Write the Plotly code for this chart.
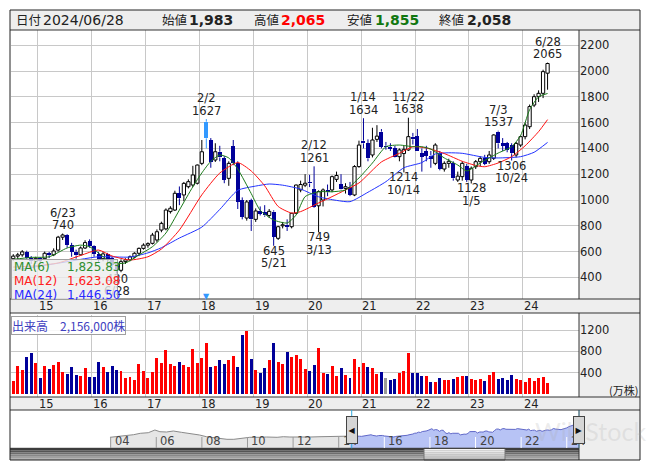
import plotly.graph_objects as go
import pandas as pd

W, H = 653, 470
def px_x(p): return p / W
def px_y(p): return 1 - p / H

# ---------------- data ----------------
months = pd.date_range("2014-07-01", periods=120, freq="MS")
month_labels = months.strftime("%Y-%m").tolist()
idx = list(range(len(month_labels)))
year_short = ["15", "16", "17", "18", "19", "20", "21", "22", "23", "24"]

opens = [
545,565,575,598,548,525,548,545,587,575,
612,712,729,650,600,575,628,680,645,580,
545,582,548,505,455,522,536,558,587,625,
650,664,690,767,776,910,922,1052,1039,1103,
1116,1130,1284,1607,1465,1310,1374,1323,1168,1419,
1284,1000,860,1000,850,915,905,880,910,703,
800,808,793,897,1078,1115,1140,1083,955,1000,
1078,1078,1160,1124,1090,1103,1039,1259,1460,1439,
1349,1470,1530,1420,1413,1401,1336,1360,1388,1491,
1496,1362,1380,1345,1284,1364,1240,1284,1284,1155,
1181,1264,1155,1258,1297,1323,1297,1323,1530,1439,
1439,1426,1349,1426,1491,1568,1736,1801,1827,1983]
highs = [
580,590,612,607,565,560,558,600,598,625,
722,740,735,668,615,640,688,695,650,598,
598,590,560,515,540,548,570,595,632,664,
672,745,772,832,935,952,1072,1105,1140,1160,
1265,1275,1465,1627,1480,1440,1420,1340,1300,1465,
1300,1020,1000,1010,935,950,960,930,920,800,
830,850,900,1120,1150,1200,1195,1261,1075,1090,
1120,1190,1220,1200,1130,1140,1270,1460,1634,1470,
1560,1580,1550,1450,1440,1420,1400,1420,1638,1520,
1550,1400,1420,1380,1440,1380,1300,1320,1300,1220,
1300,1280,1260,1310,1340,1350,1380,1510,1537,1480,
1450,1440,1450,1500,1600,1740,1820,1850,2010,2065]
lows = [
530,540,560,535,505,505,505,535,550,565,
600,690,630,560,545,570,620,630,560,520,
525,505,480,430,440,505,525,548,565,615,
630,655,672,750,765,895,915,960,990,1090,
1100,1120,1270,1400,1250,1295,1300,1130,1110,1270,
930,850,840,760,830,880,870,860,645,690,
780,760,780,890,1060,1100,1100,940,749,950,
1030,1060,1140,1080,1050,1030,1030,1250,1400,1300,
1330,1450,1400,1390,1380,1330,1300,1214,1380,1430,
1380,1220,1300,1250,1270,1230,1220,1250,1150,1140,
1150,1140,1128,1240,1260,1270,1280,1310,1400,1380,
1370,1306,1330,1410,1470,1550,1720,1760,1790,1855]
closes = [
565,575,598,548,525,548,530,587,572,605,
712,729,650,600,570,628,670,645,580,545,
582,540,500,455,522,536,560,587,625,650,
662,728,754,819,922,936,1052,1013,1129,1142,
1194,1271,1374,1478,1297,1374,1330,1155,1284,1287,
987,870,985,850,915,895,880,912,716,793,
808,790,897,1116,1120,1130,1128,949,1065,1078,
1060,1181,1190,1083,1103,1039,1259,1426,1439,1323,
1465,1495,1413,1413,1395,1336,1388,1393,1491,1470,
1382,1336,1345,1320,1426,1240,1284,1300,1168,1185,
1284,1155,1246,1297,1323,1279,1349,1504,1439,1420,
1388,1362,1439,1491,1581,1724,1801,1827,1995,2058]
# volume in 10,000 shares (万株)
volume = [
244,525,451,694,775,588,301,525,470,544,
600,419,381,507,357,338,488,319,319,600,
507,413,525,451,432,301,319,263,563,432,
301,413,675,581,825,563,525,600,544,507,
844,581,675,956,507,525,638,563,638,713,
507,1106,1181,656,451,394,488,638,956,600,
563,788,694,731,656,470,432,544,863,400,
376,526,338,488,357,301,657,507,582,507,
488,376,413,301,263,282,394,432,770,394,
394,338,338,226,226,301,263,263,282,319,
338,338,282,263,282,244,357,413,282,301,
263,357,282,263,226,301,244,301,319,215.6]

# moving averages (month index -> value)
ma6_m = [0,4,8,12,15,17,19,22,25,28,31,34,37,40,42,44,46,48,50,53,55,58,61,63,65,68,71,74,77,80,83,86,89,91,93,96,99,101,104,106,108,111,113,115,117,119]
ma6_v = [540,555,560,628,650,638,589,512,512,574,638,744,922,1103,1210,1300,1349,1326,1240,1050,920,845,822,884,1026,1064,1064,1078,1171,1287,1413,1426,1413,1413,1395,1326,1271,1225,1287,1326,1364,1413,1500,1700,1800,1825.83]
ma12_m = [0,5,10,15,19,22,26,30,33,37,42,46,50,53,56,59,62,64,68,71,74,77,82,86,89,92,96,100,103,105,108,111,114,117,119]
ma12_v = [480,490,512,570,612,566,535,560,620,767,1040,1209,1290,1225,1110,950,899,910,977,1026,1078,1132,1295,1362,1413,1403,1360,1300,1268,1258,1287,1336,1420,1530,1623.08]
ma24_m = [0,10,19,26,30,33,37,42,46,50,54,57,60,64,68,72,75,79,83,87,91,94,97,100,105,108,113,116,119]
ma24_v = [455,510,560,558,590,630,705,790,927,1075,1108,1124,1115,1085,1025,997,987,1060,1142,1250,1290,1357,1366,1362,1330,1326,1336,1370,1446.5]
ma_names = ["MA(6)", "MA(12)", "MA(24)"]
ma_last = [1825.83, 1623.08, 1446.50]

hi_labels = [(11, "6/23"), (43, "2/2"), (67, "2/12"), (78, "1/14"), (88, "11/22"), (108, "7/3"), (119, "6/28")]
lo_labels = [(23, "6/28"), (58, "5/21"), (68, "3/13"), (87, "10/14"), (102, "1/5"), (111, "10/24")]
highlight_i = 43
last_date = "2024/06/28"

# long-range navigator history before the displayed window (decimal year, price)
nav_years = [2003.97,2004.2,2004.7,2005.0,2005.3,2005.65,2005.94,2006.16,2006.45,2006.75,2007.1,2007.48,2007.9,2008.2,2008.65,2009.1,2009.4,2009.67,2010.1,2010.55,2010.84,2011.3,2011.57,2011.86,2012.3,2012.74,2013.18,2013.6,2014.0,2014.5]
nav_vals = [413,487,574,735,909,983,1318,1107,1070,1194,1033,909,698,487,289,165,165,289,413,413,450,413,487,450,413,450,487,487,520,560]
nav_tick_years = list(range(2004, 2025, 2))

price_ticks = [400, 600, 800, 1000, 1200, 1400, 1600, 1800, 2000, 2200]
vol_ticks = [400, 800, 1200]

# ---------------- styling ----------------
FONT = "DejaVu Sans, Noto Sans CJK JP, sans-serif"
JFONT = "Noto Sans CJK JP, DejaVu Sans, sans-serif"
UP_LINE = "#000000"
DOWN = "#000099"
HILITE = "#3399ff"
GRID = "#c8c8c8"
PANEL = "#eeeeee"
TXT = "#222222"

jan_idx = [month_labels.index("20%s-01" % y) for y in year_short]

fig = go.Figure()

up_ids = [i for i in idx if closes[i] >= opens[i] and i != highlight_i]
dn_ids = [i for i in idx if closes[i] < opens[i] and i != highlight_i]

def wick_xy(ids):
    xs, ys = [], []
    for i in ids:
        lo_b, hi_b = min(opens[i], closes[i]), max(opens[i], closes[i])
        xs += [i, i, None, i, i, None]
        ys += [lows[i], lo_b, None, hi_b, highs[i], None]
    return xs, ys

# candle bodies
fig.add_trace(go.Bar(x=up_ids, y=[closes[i] - opens[i] for i in up_ids], base=[opens[i] for i in up_ids],
                     width=0.72, marker=dict(color="white", line=dict(color=UP_LINE, width=1)),
                     xaxis="x", yaxis="y", hoverinfo="skip"))
fig.add_trace(go.Bar(x=dn_ids, y=[opens[i] - closes[i] for i in dn_ids], base=[closes[i] for i in dn_ids],
                     width=0.9, marker=dict(color=DOWN, line=dict(width=0)),
                     xaxis="x", yaxis="y", hoverinfo="skip"))
h = highlight_i
fig.add_trace(go.Bar(x=[h], y=[abs(opens[h] - closes[h])], base=[min(opens[h], closes[h])],
                     width=0.9, marker=dict(color=HILITE, line=dict(width=0)),
                     xaxis="x", yaxis="y", hoverinfo="skip"))
# wicks
for ids, col in ((up_ids, UP_LINE), (dn_ids, DOWN), ([h], HILITE)):
    wx, wy = wick_xy(ids)
    fig.add_trace(go.Scatter(x=wx, y=wy, mode="lines", line=dict(color=col, width=1),
                             xaxis="x", yaxis="y", hoverinfo="skip"))
# moving averages
for m, v, col in ((ma24_m, ma24_v, "#2233ff"), (ma12_m, ma12_v, "#ff1111"), (ma6_m, ma6_v, "#1a7a1a")):
    fig.add_trace(go.Scatter(x=m, y=v, mode="lines", line=dict(color=col, width=1, shape="spline", smoothing=0.6),
                             xaxis="x", yaxis="y", hoverinfo="skip"))

# volume
vcols = []
for i in idx:
    prev = closes[i - 1] if i > 0 else opens[i]
    vcols.append("#ff0000" if closes[i] > prev else ("#000099" if closes[i] < prev else "#999999"))
fig.add_trace(go.Bar(x=idx, y=volume, width=0.66, marker=dict(color=vcols, line=dict(width=0)),
                     xaxis="x2", yaxis="y2", hoverinfo="skip"))

# navigator
nav_floor = -950
sel_years = [d.year + (d.month - 1) / 12 for d in months]
fig.add_trace(go.Scatter(x=[nav_years[0], nav_years[-1]], y=[nav_floor, nav_floor], mode="lines",
                         line=dict(width=0), xaxis="x3", yaxis="y3", hoverinfo="skip"))
fig.add_trace(go.Scatter(x=nav_years, y=nav_vals, mode="lines", fill="tonexty", fillcolor="#e6e6e6",
                         line=dict(color="#8a8a8a", width=1), xaxis="x3", yaxis="y3", hoverinfo="skip"))
fig.add_trace(go.Scatter(x=[sel_years[0], 2024.55], y=[nav_floor, nav_floor], mode="lines",
                         line=dict(width=0), xaxis="x3", yaxis="y3", hoverinfo="skip"))
fig.add_trace(go.Scatter(x=sel_years + [2024.55], y=closes + [closes[-1]], mode="lines", fill="tonexty",
                         fillcolor="#b7c3f5", line=dict(color="#6068c8", width=1),
                         xaxis="x3", yaxis="y3", hoverinfo="skip"))

# ---------------- shapes ----------------
shapes = []
def rect(x0, y0, x1, y1, fill=None, line=None, lw=1, layer="below"):
    shapes.append(dict(type="rect", xref="paper", yref="paper", x0=px_x(x0), x1=px_x(x1),
                       y0=px_y(y1), y1=px_y(y0), fillcolor=fill or "rgba(0,0,0,0)",
                       line=dict(color=line or "rgba(0,0,0,0)", width=lw if line else 0), layer=layer))
def hline(y, x0, x1, col="#333333"):
    shapes.append(dict(type="line", xref="paper", yref="paper", x0=px_x(x0), x1=px_x(x1),
                       y0=px_y(y), y1=px_y(y), line=dict(color=col, width=1), layer="above"))
def vline(x, y0, y1, col="#333333"):
    shapes.append(dict(type="line", xref="paper", yref="paper", x0=px_x(x), x1=px_x(x),
                       y0=px_y(y0), y1=px_y(y1), line=dict(color=col, width=1), layer="above"))

rect(10, 10, 640, 30, fill=PANEL)
rect(579, 30, 640, 299, fill=PANEL)
rect(10, 299, 640, 313, fill=PANEL)
rect(579, 313, 640, 397, fill=PANEL)
rect(10, 397, 640, 410, fill=PANEL)
rect(579, 410, 640, 460, fill=PANEL)
# scrollbar (stepped gradient)
sb = ["#3c3c3c", "#555555", "#6e6e6e", "#888888", "#a0a0a0", "#b4b4b4"]
for k, c in enumerate(sb):
    rect(10, 448.3 + k * 11.7 / len(sb), 579, 448.3 + (k + 1) * 11.7 / len(sb), fill=c, layer="above")
th = ["#f4f4f4", "#e8e8e8", "#dcdcdc", "#d0d0d0", "#c4c4c4", "#bcbcbc"]
for k, c in enumerate(th):
    rect(424, 448.3 + k * 11.7 / len(th), 505, 448.3 + (k + 1) * 11.7 / len(th), fill=c, layer="above")
rect(424, 448.3, 505, 460, line="#777777", layer="above")

for y in (30, 299, 313, 397, 410, 448.3):
    hline(y, 10, 640 if y != 448.3 else 579)
vline(579, 30, 299)
vline(579, 313, 397)
vline(579, 410, 460)
rect(10, 10, 640, 460, line="#222222", layer="above")

# navigator ticks and handle guide lines
for yv in nav_tick_years:
    col = "white" if yv > 2014.6 else "#9a9a9a"
    shapes.append(dict(type="line", xref="x3", yref="paper", x0=yv, x1=yv, y0=px_y(448), y1=px_y(437),
                       line=dict(color=col, width=1), layer="above"))
for yv in (sel_years[0] + 0.07, 2024.55):
    shapes.append(dict(type="line", xref="x3", yref="paper", x0=yv, x1=yv, y0=px_y(448.3), y1=px_y(410),
                       line=dict(color="#33aadd", width=1), layer="above"))

# ---------------- annotations ----------------
ann = []
def A(**kw):
    kw.setdefault("showarrow", False)
    kw.setdefault("xanchor", "center")
    kw.setdefault("yanchor", "middle")
    ann.append(kw)

# year labels on both bands
for j, lab in zip(jan_idx, year_short):
    A(x=j + 1.4, xref="x", y=px_y(306), yref="paper", text=lab, font=dict(family=FONT, size=11.5, color=TXT))
    A(x=j + 1.4, xref="x2", y=px_y(403.5), yref="paper", text=lab, font=dict(family=FONT, size=11.5, color=TXT))

# high / low labels
for i, d in hi_labels:
    A(x=i, xref="x", y=highs[i], yref="y", text=str(highs[i]), yshift=8.5, font=dict(family=FONT, size=11.5, color=TXT))
    A(x=i, xref="x", y=highs[i], yref="y", text=d, yshift=21, font=dict(family=FONT, size=11.5, color=TXT))
for i, d in lo_labels:
    A(x=i, xref="x", y=lows[i], yref="y", text=str(lows[i]), yshift=-5, font=dict(family=FONT, size=11.5, color=TXT))
    A(x=i, xref="x", y=lows[i], yref="y", text=d, yshift=-17.5, font=dict(family=FONT, size=11.5, color=TXT))

# selected marker
A(x=highlight_i, xref="x", y=px_y(296), yref="paper", text="▼", font=dict(family=FONT, size=8, color=HILITE))

# MA legend box
A(x=px_x(11), y=px_y(259), xref="paper", yref="paper", xanchor="left", yanchor="top", text=" ",
  width=105, height=39, bgcolor="rgba(236,236,236,0.8)", bordercolor="#a0a0a0", borderwidth=1, borderpad=0)
for k, (nm, val, col) in enumerate(zip(ma_names, ma_last, ["#2f8f2f", "#ff2020", "#2a2aff"])):
    yy = px_y(266.5 + 14.3 * k)
    A(x=px_x(12), y=yy, xref="paper", yref="paper", xanchor="left", text=nm, font=dict(family=FONT, size=12, color=col))
    A(x=px_x(65), y=yy, xref="paper", yref="paper", xanchor="left", text=f"{val:,.2f}", font=dict(family=FONT, size=12, color=col))

# volume title box
A(x=px_x(11), y=px_y(315.5), xref="paper", yref="paper", xanchor="left", yanchor="top",
  text=f"出来高　{int(round(volume[-1] * 10000)):,}株", font=dict(family=JFONT, size=12, color="#4040c0"),
  bgcolor="rgba(255,255,255,0.85)", bordercolor="#a0a0a0", borderwidth=1, borderpad=0)
A(x=px_x(623), y=px_y(390), xref="paper", yref="paper", text="(万株)", font=dict(family=JFONT, size=11, color=TXT))

# header
hy = px_y(19.5)
def hdr(x, text, size, color=TXT, bold=False, fam=FONT):
    t = f"<b>{text}</b>" if bold else text
    A(x=px_x(x), y=hy, xref="paper", yref="paper", xanchor="left", text=t, font=dict(family=fam, size=size, color=color))
hdr(13.5, "日付", 12.5, fam=JFONT)
hdr(41, last_date, 14)
hdr(160, "始値", 12.5, fam=JFONT)
hdr(187, f"{opens[-1]:,}", 14, bold=True)
hdr(252, "高値", 12.5, fam=JFONT)
hdr(279, f"{highs[-1]:,}", 14, color="#ff0000", bold=True)
hdr(345, "安値", 12.5, fam=JFONT)
hdr(373, f"{lows[-1]:,}", 14, color="#117711", bold=True)
hdr(437, "終値", 12.5, fam=JFONT)
hdr(465, f"{closes[-1]:,}", 14, bold=True)

# navigator year labels
for yv in nav_tick_years:
    A(x=yv, xref="x3", y=px_y(440.5), yref="paper", xanchor="left", xshift=2, text=f"{yv % 100:02d}",
      font=dict(family=FONT, size=11.5, color="#444444"))

# watermark
A(x=px_x(590), y=px_y(431), xref="paper", yref="paper", text="WikiStock",
  font=dict(family="Lato, DejaVu Sans", size=25, color="rgba(170,170,170,0.22)"))

# navigator handles
for yv, sym in ((sel_years[0] + 0.07, "◀"), (2024.55, "▶")):
    A(x=yv, xref="x3", y=px_y(429.5), yref="paper", text=sym, width=10, height=26,
      font=dict(family=FONT, size=8, color="#111111"), bgcolor="#d6d6d6", bordercolor="#444444",
      borderwidth=1, borderpad=0)

axis_common = dict(zeroline=False, ticks="", fixedrange=True, showline=False)
fig.update_layout(
    width=W, height=H, margin=dict(l=0, r=0, t=0, b=0), autosize=False,
    paper_bgcolor="white", plot_bgcolor="white", showlegend=False,
    barmode="overlay", bargap=0,
    font=dict(family=FONT, size=11.5, color=TXT),
    xaxis=dict(domain=[px_x(11), px_x(579)], range=[-0.5, 126], anchor="y",
               tickvals=[j - 0.5 for j in jan_idx], showticklabels=False, showgrid=True,
               gridcolor=GRID, gridwidth=1, **axis_common),
    yaxis=dict(domain=[px_y(299), px_y(30)], range=[232.6, 2317.8], anchor="x", side="right",
               tickvals=price_ticks, showgrid=True, gridcolor=GRID, gridwidth=1,
               tickfont=dict(family=FONT, size=11.5, color=TXT), **axis_common),
    xaxis2=dict(domain=[px_x(11), px_x(579)], range=[-0.5, 126], anchor="y2",
                tickvals=[j - 0.5 for j in jan_idx], showticklabels=False, showgrid=True,
                gridcolor=GRID, gridwidth=1, **axis_common),
    yaxis2=dict(domain=[px_y(397.3), px_y(315)], range=[-61, 1481], anchor="x2", side="right",
                tickvals=vol_ticks, showgrid=True, gridcolor=GRID, gridwidth=1,
                tickfont=dict(family=FONT, size=11.5, color=TXT), **axis_common),
    xaxis3=dict(domain=[px_x(11), px_x(579.3)], range=[1999.63, 2024.55], anchor="y3", visible=False),
    yaxis3=dict(domain=[px_y(448.3), px_y(410)], range=[nav_floor, 3800], anchor="x3", visible=False),
    shapes=shapes, annotations=ann,
)

fig.write_html("out.html", config={"displayModeBar": False, "staticPlot": True},
               post_script="document.body.style.margin='0';document.body.style.overflow='hidden';")
